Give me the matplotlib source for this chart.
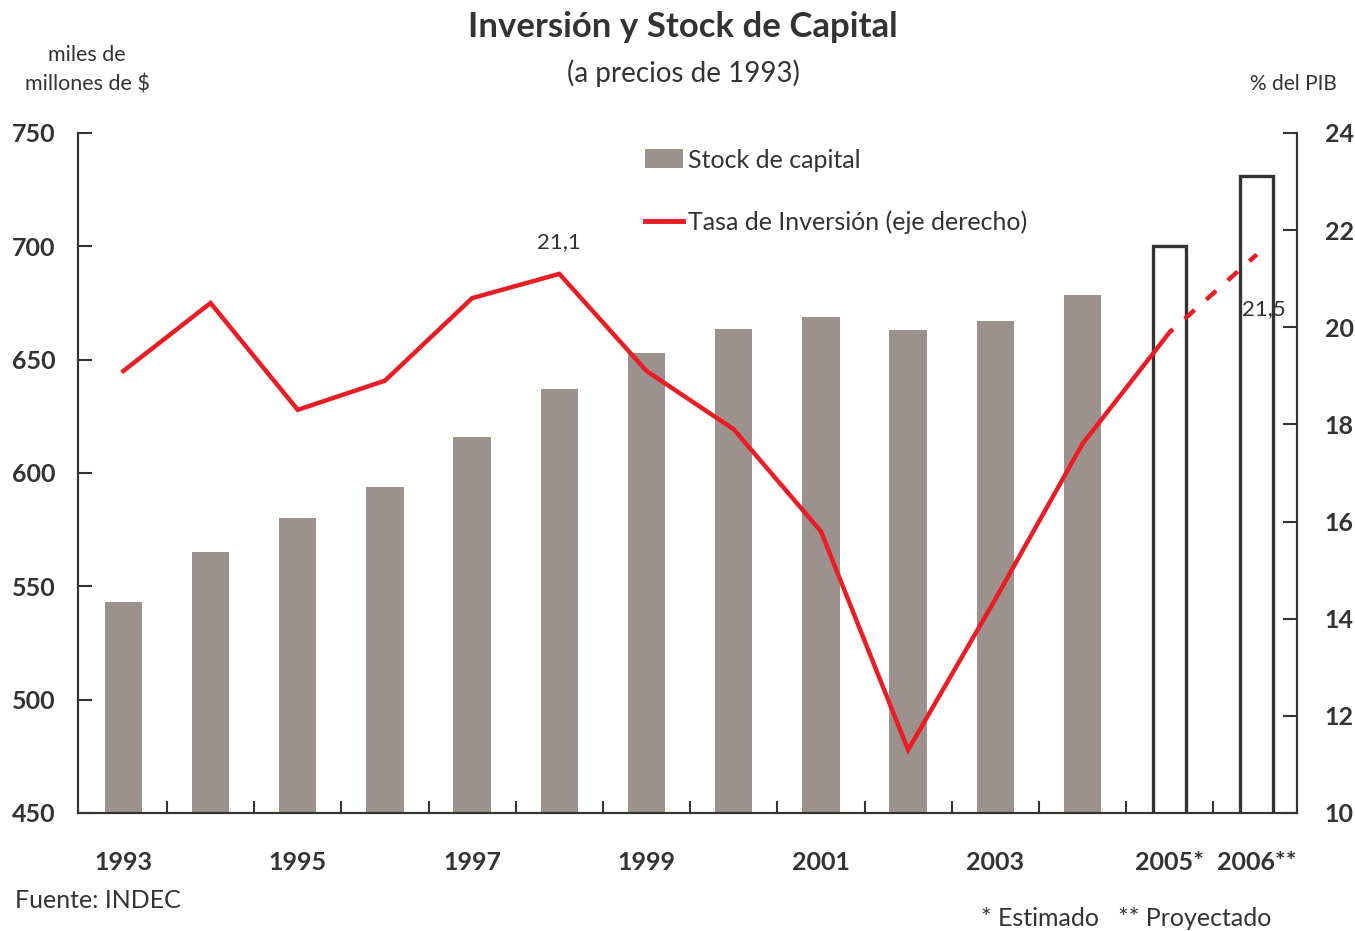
import numpy as np
import matplotlib.pyplot as plt
from matplotlib.patches import Patch
from matplotlib.lines import Line2D

plt.rcParams['font.family'] = ['Lato', 'DejaVu Sans']

# datos
years = ['1993', '1994', '1995', '1996', '1997', '1998', '1999',
         '2000', '2001', '2002', '2003', '2004', '2005', '2006']
stock = [543, 565, 580, 594, 616, 637, 653, 663.5, 669, 663, 667, 678.5, 700, 731]
tasa = [19.1, 20.5, 18.3, 18.9, 20.6, 21.1, 19.1, 17.9, 15.8, 11.3, 14.4, 17.6, 19.9, 21.5]
n_obs = 12  # 1993-2004 observados; 2005 estimado, 2006 proyectado
xlabels = ['1993', '1995', '1997', '1999', '2001', '2003', '2005*', '2006**']
xlabel_pos = [0, 2, 4, 6, 8, 10, 12, 13]

txt = '#333333'
barc = '#9d918e'
red = '#ea1c24'

fig = plt.figure(figsize=(13.55, 9.31), dpi=100)
ax = fig.add_axes([78/1355, 1-813/931, (1297-78)/1355, (813-133)/931])
ax2 = ax.twinx()

x = np.arange(len(years))
ax.bar(x[:n_obs], stock[:n_obs], width=0.43, color=barc, zorder=2)
ax.bar(x[n_obs:], stock[n_obs:], width=0.38, facecolor='white',
       edgecolor=txt, linewidth=2.4, zorder=2)

ax2.plot(x[:n_obs+1], tasa[:n_obs+1], color=red, linewidth=3.2,
         solid_joinstyle='miter')
ax2.plot(x[n_obs:], tasa[n_obs:], color=red, linewidth=3.2,
         linestyle=(2, (3, 3.5)))

ax2.annotate(f'{tasa[5]:.1f}'.replace('.', ','), xy=(x[5], tasa[5]),
             xytext=(0, 23), textcoords='offset points', ha='center', va='center',
             fontsize=16, color=txt)
ax2.annotate(f'{tasa[13]:.1f}'.replace('.', ','), xy=(x[13], tasa[13]),
             xytext=(5, -39), textcoords='offset points', ha='center', va='center',
             fontsize=16, color=txt)

ax.set_xlim(-0.52, 13.46)
ax.set_ylim(450, 750)
ax2.set_ylim(10, 24)
ax.set_yticks(np.arange(450, 751, 50))
ax2.set_yticks(np.arange(10, 25, 2))

ax.set_xticks(np.arange(0.5, 12.6, 1))
ax.set_xticklabels([])
ax.set_xticks(xlabel_pos, minor=True)
ax.set_xticklabels(xlabels, minor=True)
ax.tick_params(axis='x', which='major', direction='in', length=9, width=1.5, color=txt)
ax.tick_params(axis='x', which='minor', length=0, pad=27, labelsize=18, labelcolor=txt)
ax.tick_params(axis='y', direction='in', length=10, width=1.5, color=txt,
               pad=16, labelsize=18, labelcolor=txt)
ax2.tick_params(axis='y', direction='in', length=10, width=1.5, color=txt,
                pad=20, labelsize=18, labelcolor=txt)
for lab in ax.get_xticklabels(minor=True) + ax.get_yticklabels() + ax2.get_yticklabels():
    lab.set_fontweight('bold')

for a in (ax, ax2):
    a.spines['top'].set_visible(False)
    for s in ['left', 'right', 'bottom']:
        a.spines[s].set_color(txt)
        a.spines[s].set_linewidth(1.5)

handles = [Patch(facecolor=barc, edgecolor='none'),
           Line2D([0], [0], color=red, linewidth=3.5)]
fig.legend(handles, ['Stock de capital', 'Tasa de Inversión (eje derecho)'],
           loc='upper left', bbox_to_anchor=(632/1355, 1-136/931), frameon=False,
           fontsize=18, labelcolor=txt, handlelength=1.55, handleheight=0.8,
           handletextpad=0.2, labelspacing=1.55, borderpad=0)

fig.text(683/1355, 1-27/931, 'Inversión y Stock de Capital', ha='center', va='center',
         fontsize=25, fontweight='bold', color=txt)
fig.text(683/1355, 1-73/931, '(a precios de 1993)', ha='center', va='center',
         fontsize=20, color=txt)
fig.text(87/1355, 1-70/931, 'miles de\nmillones de $', ha='center', va='center',
         fontsize=15.5, color=txt, linespacing=1.6)
fig.text(1293/1355, 1-84/931, '% del PIB', ha='center', va='center',
         fontsize=15, color=txt)
fig.text(15/1355, 1-900/931, 'Fuente: INDEC', ha='left', va='center',
         fontsize=18, color=txt)
fig.text(1126/1355, 1-918/931, '* Estimado   ** Proyectado', ha='center', va='center',
         fontsize=18, color=txt)

fig.savefig('out.png', dpi=100)
